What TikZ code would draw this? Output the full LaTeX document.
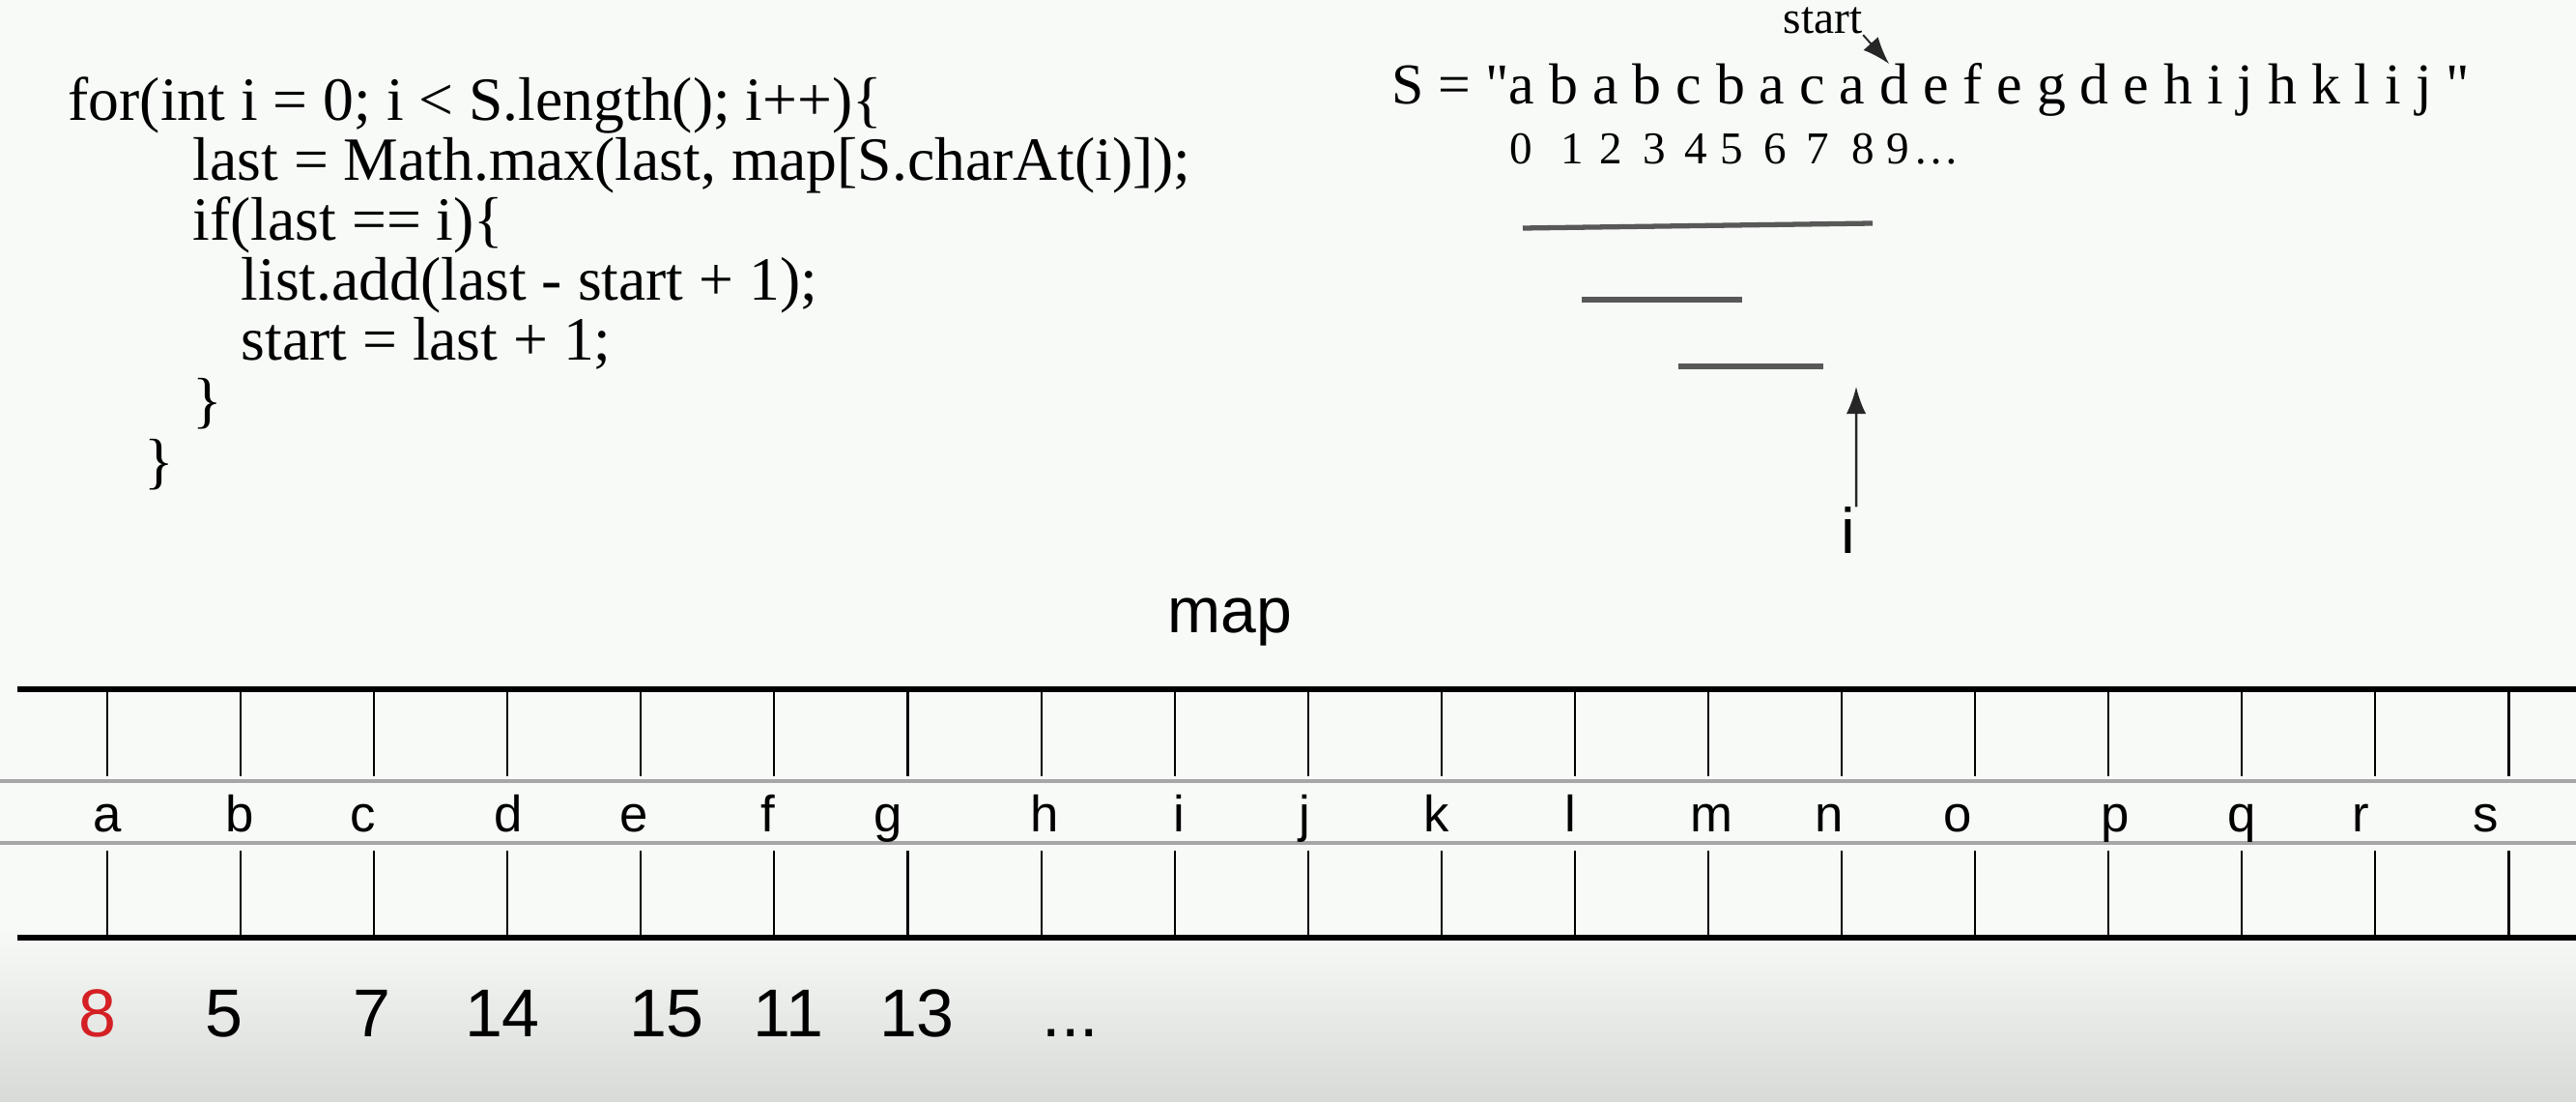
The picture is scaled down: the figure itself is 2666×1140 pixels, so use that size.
\documentclass[tikz,border=0pt]{standalone}
\usepackage{fontspec}
\setmainfont{Liberation Serif}[Ligatures=TeXOff]
\setsansfont{Liberation Sans}
\usetikzlibrary{arrows.meta, positioning}
\definecolor{paper}{RGB}{247,250,247}
\definecolor{paperlow}{RGB}{216,218,216}
\definecolor{barc}{RGB}{88,88,88}
\definecolor{hilite}{RGB}{212,32,36}

\begin{document}
\begin{tikzpicture}[
   x=0.01cm, y=-0.01cm,
   code/.style={
     anchor=base west,
     inner sep=0pt,
     font=\fontsize{18.1pt}{21pt}\selectfont,
    },
   strtext/.style={
     anchor=base west,
     inner sep=0pt,
     font=\fontsize{17pt}{20pt}\selectfont,
    },
   idx/.style={
     anchor=base,
     inner sep=0pt,
     font=\fontsize{13.4pt}{16pt}\selectfont,
    },
   key/.style={
     anchor=base,
     inner sep=0pt,
     font=\sffamily\fontsize{15pt}{18pt}\selectfont,
    },
   val/.style={
     anchor=base,
     inner sep=0pt,
     font=\sffamily\fontsize{19.9pt}{23pt}\selectfont,
    },
   bar/.style={
     draw=barc,
     line width=1.5pt,
    },
   rail/.style={
     line width=1.5pt,
    },
   guide/.style={
     draw=gray!70,
     line width=0.9pt,
    },
   tick/.style={
     line width=0.6pt,
    },
   ptr/.style={
     draw=black!85,
     line width=0.7pt,
     -{Latex[length=8pt,width=5.8pt]},
    },
  ]

% page
\useasboundingbox (0,0) rectangle (2666,1140);
\fill[paper] (0,0) rectangle (2666,1140);
\shade[top color=paper, bottom color=paperlow] (0,960) rectangle (2666,1140);

% code
\node[code] (ln1) at (70,125) {for(int i = 0; i < S.length(); i++)\{};
\node[code] (ln2) at (199,187) {last = Math.max(last, map[S.charAt(i)]);};
\node[code] (ln3) at (199,249) {if(last == i)\{};
\node[code] (ln4) at (249,311) {list.add(last - start + 1);};
\node[code] (ln5) at (249,373) {start = last + 1;};
\node[code] (ln6) at (199,436) {\}};
\node[code] (ln7) at (149,499) {\}};

% the string and its indices
\node[strtext] (str) at (1440,108) {S = "a b a b c b a c a d e f e g d e h i j h k l i j "};
\foreach \d/\x in {0/1574, 1/1627, 2/1667, 3/1712, 4/1755,
                   5/1792, 6/1837, 7/1881, 8/1928, 9/1964}
  \node[idx] (idx\d) at (\x,170) {\d};
\node[idx, anchor=base west] (idxdots) at (1980,170) {\textellipsis};

\node[anchor=base west, inner sep=0pt, font=\fontsize{13.5pt}{16pt}\selectfont]
  (start) at (1845,35) {start};
\coordinate (dtop) at (1955,66);
\draw[ptr, line width=0.55pt] (start.south east) -- (dtop);

% partitions
\draw[bar] (1576,236) -- (1938,231);
\draw[bar] (1637,310) -- (1803,310);
\draw[bar] (1737,379) -- (1887,379);

\node[anchor=base, inner sep=0pt, font=\sffamily\fontsize{18.8pt}{22pt}\selectfont]
  (ilabel) at (1913,573) {i};
\coordinate (itip) at (1921,400);
\draw[ptr] (ilabel.north east) -- (itip);

% map
\node[anchor=base, inner sep=0pt, font=\sffamily\fontsize{18.8pt}{22pt}\selectfont]
  (maptitle) at (1273,655) {map};

\draw[rail] (18,713) -- (2666,713);
\draw[rail] (18,970) -- (2666,970);
\draw[guide] (0,808) -- (2666,808);
\draw[guide] (0,872) -- (2666,872);
\foreach \k in {0,...,18} {
  \draw[tick] (111+138.08*\k,713) -- (111+138.08*\k,803);
  \draw[tick] (111+138.08*\k,880) -- (111+138.08*\k,970);
}
\foreach \c/\x in {a/111, b/248, c/376, d/526, e/656, f/795, g/919,
                   h/1081, i/1220, j/1350, k/1487, l/1625, m/1771,
                   n/1893, o/2026, p/2189, q/2320, r/2443, s/2573}
  \node[key] (key\c) at (\x,860) {\c};

\node[val, text=hilite] (vala) at (101,1072) {8};
\node[val] (valb) at (232,1072) {5};
\node[val] (valc) at (385,1072) {7};
\node[val] (vald) at (520,1072) {14};
\node[val] (vale) at (690,1072) {15};
\node[val] (valf) at (816,1072) {11};
\node[val] (valg) at (949,1072) {13};
\node[val] (valdots) at (1108,1072) {...};
\end{tikzpicture}
\end{document}
